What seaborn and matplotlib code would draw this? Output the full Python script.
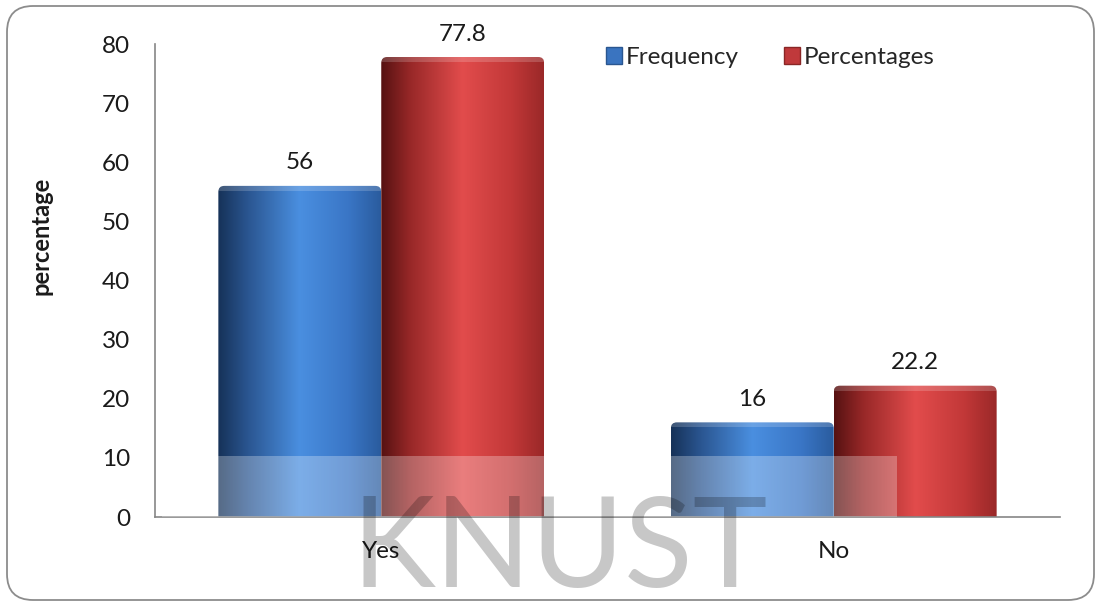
import numpy as np
import pandas as pd
import matplotlib
matplotlib.use("Agg")
import matplotlib.pyplot as plt
import seaborn as sns
from matplotlib.patches import FancyBboxPatch, Rectangle, Patch
from matplotlib.colors import LinearSegmentedColormap
from matplotlib.transforms import IdentityTransform

# ---- data ----
categories = ["Yes", "No"]
series_names = ["Frequency", "Percentages"]
frequency = [56, 16]
percentages = [77.8, 22.2]
y_ticks = [0, 10, 20, 30, 40, 50, 60, 70, 80]
y_label = "percentage"
watermark = "KNUST"

df = pd.DataFrame({
    "response": categories * 2,
    "series": [series_names[0]] * len(categories) + [series_names[1]] * len(categories),
    "value": frequency + percentages,
})

sns.set_theme(style="white")
plt.rcParams["font.family"] = ["Lato", "DejaVu Sans"]

W, H = 1101, 606
FS = 17.5
fig = plt.figure(figsize=(W / 100, H / 100), dpi=100)
fig.patch.set_facecolor("white")
ax = fig.add_axes([155 / W, 1 - 517 / H, (1060 - 155) / W, (517 - 44) / H])

base = {"Frequency": "#3a78c8", "Percentages": "#c83a3a"}
sns.barplot(data=df, x="response", y="value", hue="series", order=categories,
            hue_order=series_names, palette=base, width=0.72, gap=0,
            ax=ax, legend=False)

# cylinder-like shading for each bar
shades = {
    "Frequency": LinearSegmentedColormap.from_list(
        "blu", [(0, "#163258"), (0.18, "#2a5590"), (0.5, "#4a8fe0"), (0.8, "#3a76c6"), (1, "#2a5c9e")]),
    "Percentages": LinearSegmentedColormap.from_list(
        "red", [(0, "#561212"), (0.18, "#982828"), (0.5, "#e24c4c"), (0.8, "#c23838"), (1, "#9a2828")]),
}
ax.set_xlim(-0.5, 1.5)
ax.set_ylim(0, 80)
fig.canvas.draw()
px_x = ax.transData.transform((1, 0))[0] - ax.transData.transform((0, 0))[0]
px_y = ax.transData.transform((0, 1))[1] - ax.transData.transform((0, 0))[1]
aspect = px_x / px_y
grad = np.linspace(0, 1, 256)[None, :]

for name, cont in zip(series_names, ax.containers):
    for bar in cont:
        x0, w, h = bar.get_x(), bar.get_width(), bar.get_height()
        bar.set_visible(False)
        r = 6 / px_x
        clip = FancyBboxPatch((x0, -3), w, h + 3,
                              boxstyle=f"round,pad=0,rounding_size={r}",
                              mutation_aspect=aspect, transform=ax.transData,
                              facecolor="none", edgecolor="none")
        ax.add_patch(clip)
        im = ax.imshow(grad, extent=(x0, x0 + w, 0, h), aspect="auto",
                       cmap=shades[name], interpolation="bicubic", zorder=2)
        im.set_clip_path(clip)
        rim = Rectangle((x0, h - 5 / px_y), w, 5 / px_y, facecolor="white",
                        alpha=0.18, edgecolor="none", zorder=3)
        ax.add_patch(rim)
        rim.set_clip_path(clip)
    ax.bar_label(cont, labels=[f"{v:g}" for v in cont.datavalues], padding=9,
                 fontsize=FS, color="#1a1a1a")

ax.set_xlim(-0.5, 1.5)
ax.set_ylim(0, 80)
ax.set_yticks(y_ticks)
ax.set_xlabel("")
ax.set_ylabel(y_label, fontsize=17, fontweight="bold", color="#1a1a1a")
ax.yaxis.set_label_coords(-0.113, 0.594)
ax.tick_params(axis="y", length=0, pad=18, labelsize=FS, labelcolor="#1a1a1a")
ax.tick_params(axis="x", length=0, pad=17, labelsize=FS, labelcolor="#1a1a1a")
for s in ["top", "right"]:
    ax.spines[s].set_visible(False)
for s in ["left", "bottom"]:
    ax.spines[s].set_color("#868686")
    ax.spines[s].set_linewidth(1.2)
    ax.spines[s].set_zorder(4)

handles = [Patch(facecolor="#3a74c0", edgecolor="#2a5690", label=series_names[0]),
           Patch(facecolor="#c0393b", edgecolor="#8a2626", label=series_names[1])]
ax.legend(handles=handles, loc="upper left", bbox_to_anchor=(0.474, 1.04), ncol=2,
          frameon=False, fontsize=FS, handlelength=0.65, handleheight=0.65,
          handletextpad=0.15, columnspacing=1.9)

# outer rounded frame
fig.add_artist(FancyBboxPatch((7, 6), W - 14, H - 12,
                              boxstyle="round,pad=0,rounding_size=26",
                              transform=IdentityTransform(), facecolor="none",
                              edgecolor="#8c8c8c", linewidth=1.3, zorder=1))

# watermark band and lettering
fig.add_artist(Rectangle((162, H - 517), 735, 61, transform=IdentityTransform(),
                         facecolor="white", alpha=0.28, edgecolor="none", zorder=5))
fig.text(560 / W, 19 / H, watermark, ha="center", va="baseline", fontsize=91,
         color="black", alpha=0.22, zorder=6)

fig.savefig("out.png", dpi=100)
